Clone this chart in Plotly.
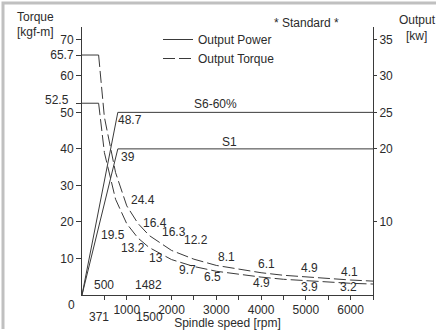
import plotly.graph_objects as go

# ---------------- data ----------------
speed_rpm = [371, 500, 750, 1000, 1250, 1482, 1500, 2000, 2500, 3000, 3500,
             4000, 4500, 5000, 5500, 6000, 6500]
torque_s6 = [65.7, 48.7, 33.5, 24.4, 19.6, 16.4, 16.3, 12.2, 9.8, 8.1, 7.0,
             6.1, 5.4, 4.9, 4.4, 4.1, 3.8]
torque_s1 = [52.5, 39, 26.2, 19.5, 15.6, 13.2, 13, 9.7, 7.8, 6.5, 5.6,
             4.9, 4.3, 3.9, 3.5, 3.2, 3.0]

flat_rpm = [0, 371]
flat_s6 = [65.7, 65.7]
flat_s1 = [52.5, 52.5]

power_rpm = [0, 800, 6500]
power_s6 = [0, 25, 25]
power_s1 = [0, 20, 20]

left_ticks = [10, 20, 30, 40, 50, 52.5, 60, 65.7, 70]
right_ticks = [10, 20, 25, 30, 35]
x_ticks = [500, 1000, 1500, 2000, 2500, 3000, 3500, 4000, 4500, 5000, 5500, 6000, 6500]
x_tick_labels = ["", "1000", "", "2000", "", "3000", "", "4000", "", "5000", "", "6000", ""]

# ---------------- layout geometry ----------------
W, H = 437, 330
ML, MR, MT, MB = 82, 64, 27, 35
PW, PH = W - ML - MR, H - MT - MB
Y_MAX = 73.37
FONT = "Arial, Liberation Sans, sans-serif"
INK = "#2b2b2b"
LINE = "#3a3a3a"


def px(x, y):
    """pixel -> paper coordinates (for label placement)"""
    return (x - ML) / PW, (H - MB - y) / PH


fig = go.Figure()

# constant-torque part (solid)
fig.add_trace(go.Scatter(x=flat_rpm, y=flat_s6, mode="lines", showlegend=False,
                         line=dict(color=LINE, width=1)))
fig.add_trace(go.Scatter(x=flat_rpm, y=flat_s1, mode="lines", showlegend=False,
                         line=dict(color=LINE, width=1)))
# power
fig.add_trace(go.Scatter(x=power_rpm, y=power_s6, mode="lines", name="Output Power",
                         yaxis="y2", line=dict(color=LINE, width=1)))
fig.add_trace(go.Scatter(x=power_rpm, y=power_s1, mode="lines", showlegend=False,
                         yaxis="y2", line=dict(color=LINE, width=1)))
# torque
fig.add_trace(go.Scatter(x=speed_rpm, y=torque_s6, mode="lines", name="Output Torque",
                         line=dict(color=LINE, width=1, dash="12px,4px")))
fig.add_trace(go.Scatter(x=speed_rpm, y=torque_s1, mode="lines", showlegend=False,
                         line=dict(color=LINE, width=1, dash="12px,4px")))

ann = []


def label(text, x, y, size=12, xanchor="center", yanchor="middle"):
    xp, yp = px(x, y)
    ann.append(dict(text=text, x=xp, y=yp, xref="paper", yref="paper",
                    xanchor=xanchor, yanchor=yanchor, showarrow=False,
                    font=dict(size=size, color=INK, family=FONT)))


def fmt(v):
    return f"{v:g}"

# value labels: (series, rpm) -> pixel centre
s6_pos = {500: (129.7, 120), 1000: (143.3, 200), 1482: (154.5, 222.7),
          1500: (174.2, 231.7), 2000: (195.8, 240), 3000: (226.7, 256.7),
          4000: (266, 264.3), 5000: (309.5, 268.3), 6000: (349.5, 271.7)}
s1_pos = {500: (128.3, 156.7), 1000: (113.3, 235), 1482: (133, 248.3),
          1500: (155.8, 258.3), 2000: (187.5, 270), 3000: (212.5, 277.3),
          4000: (261, 283.3), 5000: (309.5, 286.7), 6000: (348, 286.7)}
for rpm, (x, y) in s6_pos.items():
    label(fmt(torque_s6[speed_rpm.index(rpm)]), x, y)
for rpm, (x, y) in s1_pos.items():
    label(fmt(torque_s1[speed_rpm.index(rpm)]), x, y)

label("S6-60%", 215, 104)
label("S1", 229.5, 141.7)
label("52.5", 71, 100, xanchor="right")
label("0", 71.7, 305)
label("* Standard *", 306, 23)
label("Torque", 15, 16.7, xanchor="left")
label("[kgf-m]", 15, 31.7, xanchor="left")
label("Output", 397, 20, xanchor="left")
label("[kw]", 403.7, 36, xanchor="left")

# extra speed labels anchored at their rpm
for val, y in [(500, 285), (1482, 285), (371, 316.7), (1500, 316.7)]:
    ann.append(dict(text=str(val), x=val, y=px(0, y)[1], xref="x", yref="paper",
                    xanchor="center", yanchor="middle", showarrow=False,
                    font=dict(size=12, color=INK, family=FONT)))

# light gray frame along the top and left edges of the picture
fx0, fy0 = px(3, 329)
fx1, fy1 = px(436, 3)
shapes = [dict(type="path", xref="paper", yref="paper",
               path=f"M {fx0},{fy0} L {fx0},{fy1} L {fx1},{fy1}",
               line=dict(color="#c0c0c0", width=3))]

lx, ly = px(158, 25)
fig.update_layout(
    width=W, height=H,
    margin=dict(l=ML, r=MR, t=MT, b=MB, autoexpand=False),
    paper_bgcolor="white", plot_bgcolor="white",
    font=dict(family=FONT, size=12, color=INK),
    showlegend=True,
    legend=dict(x=lx, y=ly, xanchor="left", yanchor="top", bgcolor="rgba(0,0,0,0)",
                font=dict(size=12, color=INK, family=FONT), tracegroupgap=0,
                itemwidth=30),
    xaxis=dict(range=[0, 6500], tickvals=x_ticks, ticktext=x_tick_labels,
               showline=True, linecolor=LINE, linewidth=1, ticks="outside",
               ticklen=4, tickcolor=LINE, showgrid=False, zeroline=False,
               tickfont=dict(size=12, color=INK),
               title=dict(text="Spindle speed [rpm]", standoff=14,
                          font=dict(size=12, color=INK))),
    yaxis=dict(range=[0, Y_MAX], tickvals=left_ticks,
               ticktext=[("" if v == 52.5 else fmt(v)) for v in left_ticks],
               showline=True, linecolor=LINE, linewidth=1, ticks="outside",
               ticklen=5, tickcolor=LINE, showgrid=False, zeroline=False,
               tickfont=dict(size=12, color=INK)),
    yaxis2=dict(range=[0, Y_MAX / 2], tickvals=right_ticks, overlaying="y", side="right",
                showline=True, linecolor=LINE, linewidth=1, ticks="outside",
                ticklen=3, tickcolor=LINE, showgrid=False, zeroline=False,
                tickfont=dict(size=12, color=INK)),
    annotations=ann,
    shapes=shapes,
)

fig.write_html("out.html", config={"displayModeBar": False},
               post_script="document.body.style.margin='0';")
